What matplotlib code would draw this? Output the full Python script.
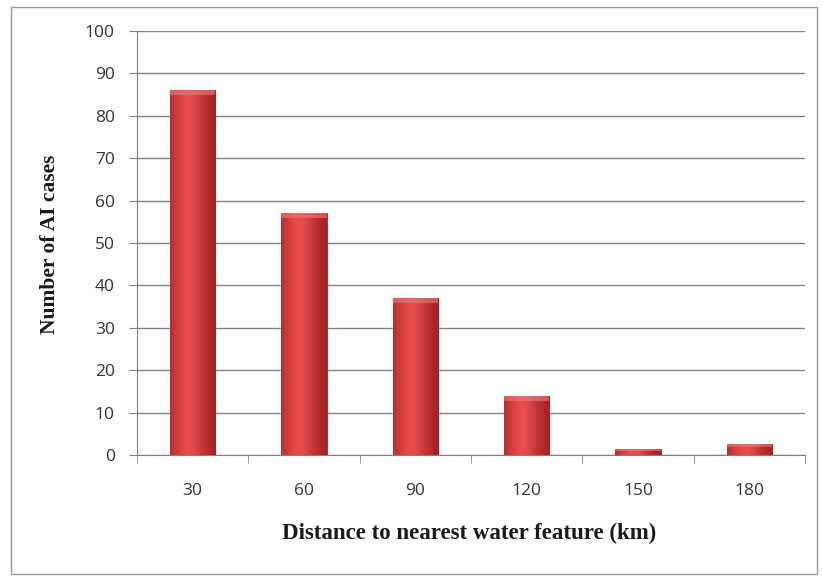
import numpy as np
from matplotlib import pyplot as plt
from matplotlib.patches import Rectangle

distances = ['30', '60', '90', '120', '150', '180']
cases = [86, 57, 37, 14, 1.5, 2.7]
y_ticks = list(range(0, 101, 10))

fig = plt.figure(figsize=(8.22, 5.77), dpi=100)
fig.patch.set_facecolor('white')
fig.add_artist(Rectangle((11 / 822, 3 / 577), 806 / 822, 567 / 577, transform=fig.transFigure,
                         fill=False, edgecolor='#9a9a9a', lw=1.0))

ax = fig.add_axes([137 / 822, 1 - 455 / 577, 668 / 822, 424 / 577])
x = np.arange(len(distances))
bars = ax.bar(x, cases, width=0.41, color='#cc3333', edgecolor='#9a2222', lw=0.6, zorder=3)

# cylinder-like shading for each bar
prof = np.linspace(0, 1, 200)
shade = np.exp(-((prof - 0.4) / 0.38) ** 2)
dark = np.array([0.62, 0.12, 0.12])
light = np.array([0.91, 0.30, 0.30])
grad = dark[None, :] + (light - dark)[None, :] * shade[:, None]
grad = grad[None, :, :]
for b in bars:
    x0, w, h = b.get_x(), b.get_width(), b.get_height()
    im = ax.imshow(grad, extent=[x0, x0 + w, 0, h], aspect='auto', zorder=3.5,
                   interpolation='bilinear')
    im.set_clip_path(b)
    cap = min(1.2, h * 0.3)
    ax.add_patch(Rectangle((x0, h - cap), w, cap, facecolor='#f07a7a', edgecolor='none',
                           alpha=0.6, zorder=3.6))

ax.set_xlim(-0.5, len(distances) - 0.5)
ax.set_ylim(0, 100)
ax.set_yticks(y_ticks)
ax.set_xticks(x)
ax.set_xticklabels(distances)
ax.set_xticks(np.arange(-0.5, len(distances), 1), minor=True)
ax.tick_params(axis='x', which='major', length=0, pad=20)
ax.tick_params(axis='x', which='minor', length=6, color='#808080', direction='out')
ax.tick_params(axis='y', length=6, color='#808080', direction='out', pad=10)
for lab in ax.get_xticklabels() + ax.get_yticklabels():
    lab.set_fontfamily('Open Sans')
    lab.set_fontsize(12.5)
    lab.set_color('#333333')

ax.grid(axis='y', color='#808080', lw=1.0, zorder=0)
for s in ['top', 'right']:
    ax.spines[s].set_visible(False)
ax.spines['left'].set_color('#808080')
ax.spines['bottom'].set_color('#808080')

fig.text(469 / 822, 1 - 533 / 577, 'Distance to nearest water feature (km)',
         fontfamily='Liberation Serif', fontweight='bold', fontsize=16.5,
         ha='center', va='center', color='#1a1a1a')
fig.text(50 / 822, 1 - 244 / 577, 'Number of AI cases', fontfamily='Liberation Serif',
         fontweight='bold', fontsize=15.5, rotation=90, ha='center', va='center',
         color='#1a1a1a')

plt.savefig('out.png', dpi=100)
